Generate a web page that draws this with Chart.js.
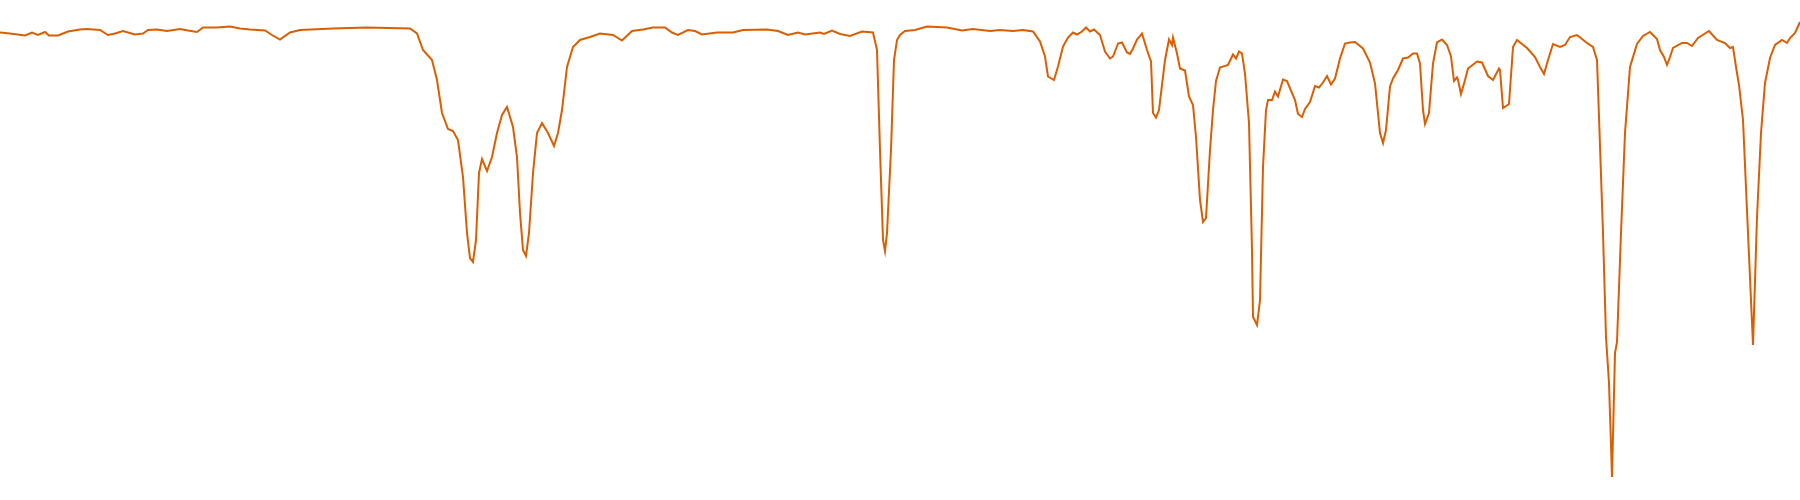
<!DOCTYPE html>
<html>
<head>
<meta charset="utf-8">
<title>Spectrum</title>
<script src="https://cdn.jsdelivr.net/npm/chart.js@4/dist/chart.umd.min.js"></script>
<style>
    html, body { margin: 0; padding: 0; background: #ffffff; }
    #wrap { width: 1800px; height: 500px; }
</style>
</head>
<body>
<div id="wrap"><canvas id="spectrumChart"></canvas></div>
<script>
// Wavenumber (cm-1) from left to right
const wavenumbers = [
    4000, 3980, 3950, 3936, 3924, 3910, 3902, 3884, 3864, 3840, 3826, 3800, 3784, 3770, 3754, 3730,
    3714, 3704, 3686, 3666, 3640, 3624, 3606, 3594, 3566, 3540, 3520, 3500, 3470, 3456, 3440, 3420,
    3400, 3334, 3266, 3180, 3166, 3154, 3136, 3126, 3116, 3104, 3094, 3084, 3074, 3066, 3060, 3054,
    3048, 3042, 3036, 3026, 3016, 3006, 2996, 2986, 2974, 2966, 2960, 2954, 2948, 2942, 2934, 2926,
    2916, 2904, 2892, 2884, 2876, 2866, 2854, 2840, 2820, 2800, 2774, 2756, 2736, 2714, 2694, 2670,
    2656, 2644, 2624, 2610, 2596, 2566, 2534, 2514, 2466, 2444, 2424, 2404, 2390, 2360, 2352, 2336,
    2320, 2300, 2276, 2254, 2246, 2240, 2234, 2230, 2226, 2218, 2212, 2206, 2200, 2190, 2170, 2146,
    2106, 2076, 2054, 2020, 2000, 1974, 1954, 1934, 1920, 1910, 1904, 1892, 1884, 1874, 1864, 1854,
    1846, 1836, 1828, 1820, 1812, 1800, 1790, 1780, 1774, 1764, 1756, 1746, 1740, 1734, 1726, 1716,
    1706, 1698, 1694, 1688, 1682, 1670, 1662, 1656, 1654, 1646, 1640, 1630, 1622, 1614, 1608, 1600,
    1594, 1588, 1580, 1574, 1568, 1560, 1544, 1534, 1528, 1522, 1516, 1510, 1502, 1496, 1494, 1486,
    1480, 1474, 1468, 1464, 1456, 1450, 1444, 1434, 1426, 1410, 1404, 1396, 1390, 1380, 1370, 1362,
    1354, 1346, 1338, 1330, 1320, 1310, 1300, 1290, 1274, 1260, 1250, 1240, 1234, 1228, 1220, 1214,
    1204, 1194, 1184, 1174, 1166, 1160, 1154, 1150, 1142, 1134, 1126, 1116, 1106, 1098, 1092, 1086,
    1084, 1078, 1070, 1064, 1046, 1036, 1024, 1014, 1002, 1000, 994, 982, 974, 966, 946, 930,
    920, 912, 904, 894, 880, 870, 860, 846, 826, 814, 806, 802, 794, 788, 782, 776,
    770, 766, 758, 750, 740, 726, 714, 700, 686, 680, 672, 666, 660, 654, 636, 626,
    616, 604, 582, 566, 550, 540, 534, 528, 522, 514, 504, 494, 486, 478, 470, 460,
    450, 436, 426, 420, 410, 400
];

// Transmittance (%), one value per wavenumber
const transmittance = [
    93.5, 93.3, 92.9, 93.5, 93.0, 93.6, 92.9, 92.9, 93.7, 94.1, 94.2, 94.0, 93.0, 93.3, 93.8, 93.1,
    93.3, 94.0, 94.1, 93.8, 94.2, 93.9, 93.6, 94.5, 94.5, 94.7, 94.3, 94.1, 93.9, 93.0, 92.1, 93.5,
    94.0, 94.3, 94.5, 94.3, 93.3, 90.0, 88.0, 84.0, 77.4, 74.2, 73.8, 72.0, 64.6, 53.4, 48.4, 47.6,
    52.0, 65.4, 68.2, 65.8, 68.6, 73.4, 77.0, 78.6, 74.6, 68.6, 57.4, 50.0, 48.8, 53.4, 65.4, 73.4,
    75.4, 73.4, 70.8, 73.4, 78.0, 86.6, 90.6, 92.0, 92.6, 93.3, 93.0, 91.9, 93.8, 94.1, 94.5, 94.5,
    93.5, 93.0, 94.0, 93.8, 93.1, 93.5, 93.5, 94.0, 94.1, 93.8, 93.0, 93.5, 93.1, 93.5, 93.2, 93.9,
    93.2, 92.8, 93.7, 93.5, 90.0, 70.0, 52.0, 49.8, 53.4, 70.0, 88.0, 92.0, 93.0, 93.8, 94.0, 94.7,
    94.5, 93.9, 94.2, 93.8, 94.0, 93.8, 94.0, 93.7, 91.7, 88.7, 84.7, 84.0, 86.7, 90.7, 92.5, 93.5,
    93.1, 93.7, 94.5, 93.7, 94.1, 93.0, 89.7, 88.3, 88.7, 91.3, 91.5, 89.5, 89.2, 90.3, 92.1, 93.3,
    90.0, 87.7, 77.4, 76.5, 78.0, 88.0, 92.1, 91.0, 92.5, 89.3, 86.3, 85.9, 80.7, 79.0, 72.6, 60.0,
    55.6, 56.4, 70.0, 78.0, 83.8, 86.5, 87.0, 89.1, 88.3, 89.7, 89.3, 85.3, 75.4, 50.0, 36.6, 35.0,
    40.0, 66.6, 78.0, 80.0, 80.0, 81.7, 80.7, 84.1, 83.8, 80.0, 77.2, 76.6, 78.2, 79.6, 82.8, 82.5,
    83.5, 84.8, 83.1, 84.3, 88.3, 91.3, 91.5, 91.6, 90.3, 87.5, 83.3, 73.4, 71.4, 74.0, 82.7, 84.3,
    86.0, 88.3, 88.5, 89.3, 89.3, 87.3, 78.0, 75.2, 77.4, 87.3, 91.5, 92.1, 91.0, 88.7, 83.8, 84.5,
    84.0, 81.2, 84.0, 86.3, 87.7, 87.5, 84.8, 84.0, 86.3, 86.0, 78.4, 79.2, 90.6, 92.0, 90.4, 88.6,
    86.6, 85.2, 88.0, 91.2, 90.6, 91.0, 92.6, 93.0, 91.4, 90.6, 88.0, 76.6, 53.4, 32.6, 23.4, 4.6,
    29.4, 31.6, 53.4, 73.4, 86.6, 91.2, 92.8, 93.6, 92.2, 90.0, 88.6, 87.0, 88.6, 90.4, 91.4, 91.4,
    90.8, 92.4, 93.8, 92.0, 91.4, 90.4, 90.6, 86.6, 83.0, 76.0, 53.4, 31.0, 56.6, 73.4, 83.4, 88.4,
    91.0, 92.0, 91.4, 92.4, 93.4, 95.6
];

const lineColor = '#d95f02';

document.addEventListener('DOMContentLoaded', () => {
    const points = wavenumbers.map((wn, i) => ({ x: wn, y: transmittance[i] }));

    const ctx = document.getElementById('spectrumChart').getContext('2d');
    new Chart(ctx, {
        type: 'line',
        data: {
            datasets: [{
                label: 'Transmittance',
                data: points,
                borderColor: lineColor,
                borderWidth: 2,
                pointRadius: 0,
                tension: 0,
                fill: false
            }]
        },
        options: {
            responsive: true,
            maintainAspectRatio: false,
            animation: false,
            layout: { padding: 0 },
            plugins: {
                legend: { display: false },
                tooltip: { enabled: false }
            },
            scales: {
                x: {
                    type: 'linear',
                    reverse: true,
                    min: 400,
                    max: 4000,
                    display: false
                },
                y: {
                    min: 0,
                    max: 100,
                    display: false
                }
            }
        }
    });
});
</script>
</body>
</html>
